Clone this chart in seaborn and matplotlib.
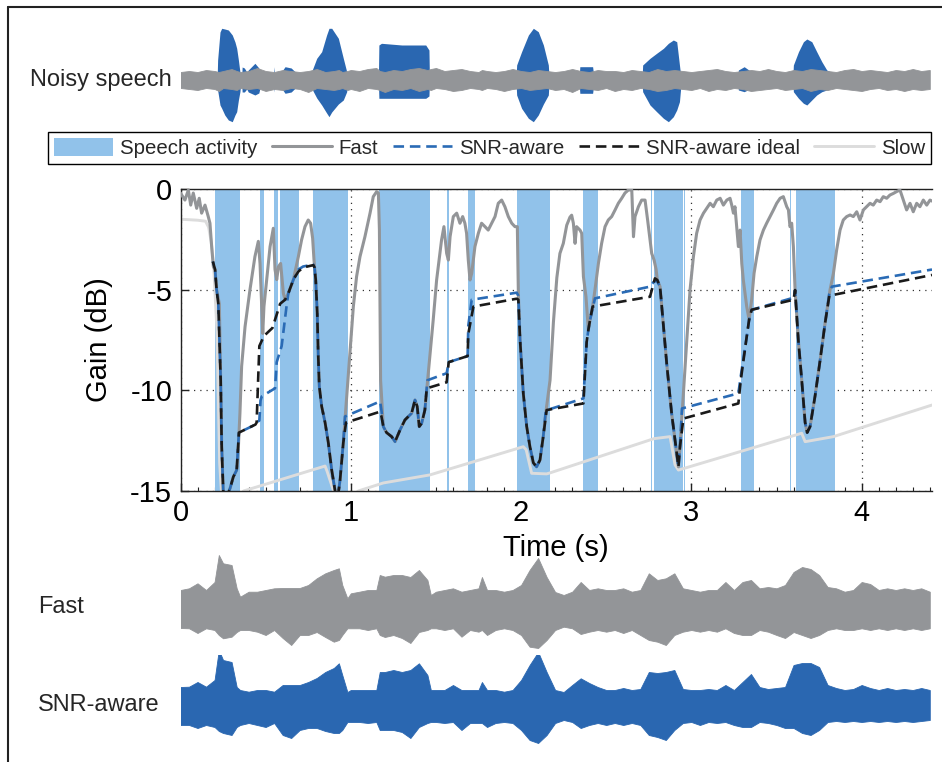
import numpy as np
import matplotlib
matplotlib.use("Agg")
import matplotlib.pyplot as plt
import seaborn as sns
from matplotlib.patches import Patch
from matplotlib.lines import Line2D
from matplotlib.ticker import MultipleLocator

# ---------------- data ----------------
speech_start = [0.203, 0.223, 0.467, 0.551, 0.584, 0.78, 1.167, 1.563, 1.686, 1.978,
                2.362, 2.763, 2.78, 2.957, 3.291, 3.579, 3.612]
speech_end = [0.219, 0.349, 0.49, 0.574, 0.698, 0.985, 1.465, 1.575, 1.729, 2.17,
              2.45, 2.77, 2.949, 2.962, 3.368, 3.587, 3.843]

fast_t = [0.0, 0.026, 0.046, 0.06, 0.075, 0.095, 0.11, 0.124, 0.144, 0.163, 0.173, 0.183, 0.193,
          0.203, 0.212, 0.228, 0.236, 0.242, 0.251, 0.262, 0.275, 0.291, 0.31, 0.33, 0.34, 0.349,
          0.359, 0.379, 0.408, 0.437, 0.457, 0.467, 0.477, 0.483, 0.49, 0.506, 0.526, 0.545, 0.555,
          0.565, 0.575, 0.588, 0.604, 0.614, 0.633, 0.663, 0.692, 0.711, 0.731, 0.75, 0.764, 0.776,
          0.784, 0.794, 0.803, 0.809, 0.815, 0.829, 0.849, 0.868, 0.888, 0.907, 0.917, 0.927, 0.937,
          0.956, 0.976, 0.995, 1.015, 1.034, 1.054, 1.083, 1.113, 1.132, 1.152, 1.162, 1.168, 1.175,
          1.191, 1.21, 1.24, 1.26, 1.289, 1.318, 1.338, 1.357, 1.377, 1.39, 1.402, 1.416, 1.435,
          1.455, 1.484, 1.504, 1.533, 1.547, 1.563, 1.573, 1.583, 1.602, 1.622, 1.641, 1.657, 1.67,
          1.68, 1.69, 1.7, 1.71, 1.729, 1.749, 1.768, 1.788, 1.807, 1.827, 1.847, 1.866, 1.886,
          1.905, 1.925, 1.945, 1.964, 1.978, 1.984, 1.994, 2.013, 2.033, 2.052, 2.072, 2.091, 2.111,
          2.13, 2.15, 2.17, 2.19, 2.21, 2.228, 2.248, 2.268, 2.287, 2.297, 2.307, 2.317, 2.326,
          2.346, 2.356, 2.366, 2.381, 2.395, 2.405, 2.42, 2.434, 2.454, 2.473, 2.493, 2.512, 2.532,
          2.552, 2.571, 2.591, 2.61, 2.63, 2.65, 2.66, 2.669, 2.689, 2.708, 2.728, 2.743, 2.757,
          2.767, 2.781, 2.793, 2.8, 2.816, 2.855, 2.884, 2.914, 2.924, 2.933, 2.953, 2.973, 2.992,
          3.012, 3.031, 3.051, 3.071, 3.09, 3.11, 3.129, 3.149, 3.169, 3.188, 3.208, 3.227, 3.237,
          3.247, 3.256, 3.266, 3.276, 3.286, 3.296, 3.305, 3.325, 3.339, 3.354, 3.368, 3.384, 3.403,
          3.423, 3.442, 3.462, 3.482, 3.501, 3.521, 3.54, 3.56, 3.57, 3.579, 3.589, 3.599, 3.609,
          3.628, 3.648, 3.668, 3.68, 3.697, 3.726, 3.756, 3.785, 3.814, 3.834, 3.853, 3.873, 3.892,
          3.912, 3.932, 3.951, 3.971, 3.99, 4.01, 4.029, 4.049, 4.068, 4.088, 4.108, 4.127, 4.147,
          4.166, 4.186, 4.205, 4.225, 4.245, 4.264, 4.284, 4.303, 4.323, 4.342, 4.362, 4.382, 4.401,
          4.413]
fast_g = [-0.2, -0.55, -0.05, -0.8, -0.2, -0.96, -0.46, -1.2, -0.8, -1.37, -1.7, -2.86, -3.86,
          -4.0, -5.0, -5.7, -9.5, -12.8, -15.0, -15.6, -15.2, -14.87, -14.3, -13.96, -12.8, -11.14,
          -8.8, -6.84, -5.0, -3.36, -2.6, -3.7, -5.84, -7.17, -5.84, -4.5, -2.86, -1.95, -4.0,
          -4.5, -3.86, -3.7, -5.18, -5.5, -5.18, -4.5, -3.36, -2.53, -1.87, -1.54, -1.7, -2.45,
          -3.53, -4.5, -6.18, -8.33, -9.8, -10.8, -11.6, -12.6, -13.96, -14.95, -15.4, -15.1, -14.45,
          -12.6, -10.3, -8.16, -5.84, -4.35, -3.36, -2.37, -1.2, -0.38, -0.13, -0.2, -2.0, -9.5,
          -11.8, -12.1, -12.3, -12.55, -11.97, -11.47, -11.3, -11.14, -10.48, -10.8, -11.8, -11.64, -10.98,
          -9.16, -6.5, -4.52, -2.53, -1.87, -3.2, -3.53, -2.37, -1.37, -1.2, -1.7, -1.37, -1.7,
          -2.2, -3.53, -4.52, -4.19, -2.86, -2.2, -1.7, -1.87, -2.04, -1.7, -1.37, -0.71, -0.55,
          -0.88, -1.37, -1.7, -1.87, -1.87, -5.2, -7.5, -10.15, -11.8, -12.8, -13.6, -13.8, -13.46,
          -12.3, -10.8, -9.5, -6.6, -4.4, -3.2, -2.7, -1.8, -1.4, -1.3, -1.7, -2.7, -1.87,
          -2.04, -2.2, -4.35, -5.35, -7.0, -6.5, -5.84, -5.0, -3.7, -2.7, -1.87, -1.54, -1.37,
          -1.04, -0.71, -0.46, -0.2, -0.05, -0.05, -2.37, -1.37, -0.88, -0.55, -0.55, -1.54, -2.53,
          -3.2, -3.53, -4.0, -4.52, -4.85, -8.66, -11.14, -13.13, -13.8, -12.8, -10.15, -7.5, -5.02,
          -3.36, -2.2, -1.54, -1.2, -0.96, -0.71, -0.88, -0.55, -0.46, -0.8, -0.55, -0.46, -0.8,
          -1.2, -0.88, -1.87, -2.86, -2.04, -3.7, -4.52, -5.84, -6.5, -5.5, -4.19, -3.36, -2.53,
          -2.04, -1.7, -1.37, -1.04, -0.71, -0.46, -0.38, -0.88, -1.04, -1.87, -1.7, -2.86, -5.02,
          -7.5, -9.49, -11.6, -12.1, -11.8, -10.3, -8.5, -6.67, -5.02, -4.19, -3.03, -2.04, -1.54,
          -1.37, -1.29, -1.37, -1.13, -1.54, -1.04, -0.88, -0.71, -0.8, -0.55, -0.63, -0.38, -0.46,
          -0.3, -0.22, -0.13, -0.05, -0.55, -1.04, -0.71, -1.13, -0.71, -0.88, -0.55, -0.8, -0.55,
          -0.6]

slow_t = [0.0, 0.1, 0.147, 0.165, 0.18, 0.194, 0.214, 0.23, 0.24, 0.26, 0.35, 0.37, 0.849,
          0.86, 0.899, 0.93, 1.03, 1.044, 1.191, 1.465, 2.013, 2.03, 2.062, 2.15, 2.17, 2.78,
          2.875, 2.904, 2.924, 3.648, 3.668, 3.834, 4.413]
slow_g = [-1.5, -1.55, -1.6, -1.9, -2.6, -3.7, -7.0, -13.6, -15.0, -15.5, -15.3, -15.0, -13.76,
          -14.0, -15.0, -15.3, -15.2, -15.0, -14.6, -14.2, -12.8, -12.95, -14.12, -14.15, -14.1, -12.4,
          -12.3, -13.7, -13.96, -12.13, -12.55, -12.3, -10.73]

ideal_t = [0.19, 0.203, 0.212, 0.222, 0.236, 0.242, 0.251, 0.262, 0.275, 0.291, 0.31, 0.33, 0.343,
           0.44, 0.447, 0.463, 0.49, 0.54, 0.585, 0.614, 0.633, 0.663, 0.692, 0.72, 0.78, 0.787,
           0.794, 0.803, 0.809, 0.815, 0.829, 0.849, 0.868, 0.888, 0.907, 0.917, 0.927, 0.937, 0.956,
           0.972, 1.172, 1.18, 1.191, 1.21, 1.24, 1.26, 1.289, 1.318, 1.338, 1.357, 1.377, 1.39,
           1.402, 1.416, 1.435, 1.446, 1.563, 1.575, 1.686, 1.69, 1.72, 1.974, 1.984, 1.994, 2.013,
           2.033, 2.052, 2.072, 2.091, 2.111, 2.13, 2.15, 2.366, 2.385, 2.395, 2.405, 2.42, 2.757,
           2.786, 2.8, 2.816, 2.855, 2.884, 2.914, 2.924, 2.933, 2.953, 3.276, 3.29, 3.325, 3.339,
           3.354, 3.6, 3.609, 3.628, 3.648, 3.668, 3.68, 3.697, 3.726, 3.756, 3.785, 3.81, 4.413]
ideal_g = [-3.6, -4.0, -5.0, -5.7, -9.5, -12.8, -15.0, -15.6, -15.2, -14.87, -14.3, -13.96, -12.1,
           -11.7, -11.6, -7.8, -7.3, -6.9, -5.7, -5.5, -5.18, -4.5, -4.1, -3.9, -3.78, -3.9,
           -4.5, -6.18, -8.33, -9.8, -10.8, -11.6, -12.6, -13.96, -14.95, -15.4, -15.1, -14.45, -12.6,
           -11.6, -11.06, -11.3, -11.8, -12.1, -12.3, -12.55, -11.97, -11.47, -11.3, -11.14, -10.48, -10.8,
           -11.8, -11.64, -10.98, -9.9, -9.6, -8.6, -8.3, -7.2, -5.84, -5.45, -5.5, -7.5, -10.15,
           -11.8, -12.8, -13.6, -13.8, -13.46, -12.3, -10.98, -10.65, -7.6, -7.0, -6.5, -5.84, -5.35,
           -4.44, -4.52, -4.85, -8.66, -11.14, -13.13, -13.8, -12.8, -11.4, -10.65, -9.5, -7.33, -6.5,
           -6.0, -5.5, -5.02, -7.5, -9.49, -11.6, -12.1, -11.8, -10.3, -8.5, -6.67, -5.3, -4.27]

snr_t = [0.19, 0.203, 0.212, 0.222, 0.236, 0.242, 0.251, 0.262, 0.275, 0.291, 0.31, 0.33, 0.343,
         0.44, 0.447, 0.463, 0.47, 0.477, 0.555, 0.565, 0.594, 0.623, 0.633, 0.663, 0.692, 0.72,
         0.78, 0.787, 0.794, 0.803, 0.809, 0.815, 0.829, 0.849, 0.868, 0.888, 0.907, 0.917, 0.927,
         0.937, 0.956, 0.966, 1.172, 1.18, 1.191, 1.21, 1.24, 1.26, 1.289, 1.318, 1.338, 1.357,
         1.377, 1.39, 1.402, 1.416, 1.435, 1.45, 1.563, 1.575, 1.686, 1.69, 1.71, 1.974, 1.984,
         1.994, 2.013, 2.033, 2.052, 2.072, 2.091, 2.111, 2.13, 2.145, 2.366, 2.385, 2.395, 2.405,
         2.434, 2.757, 2.786, 2.8, 2.816, 2.855, 2.884, 2.914, 2.924, 2.933, 2.945, 3.276, 3.29,
         3.325, 3.339, 3.354, 3.6, 3.609, 3.628, 3.648, 3.668, 3.68, 3.697, 3.726, 3.756, 3.785,
         3.81, 3.825, 4.413]
snr_g = [-3.6, -4.0, -5.0, -5.7, -9.5, -12.8, -15.0, -15.6, -15.2, -14.87, -14.3, -13.96, -12.1,
         -11.7, -11.6, -11.5, -10.5, -10.3, -9.9, -8.6, -7.8, -5.8, -5.2, -4.5, -4.0, -3.85,
         -3.75, -3.9, -4.5, -6.18, -8.33, -9.8, -10.8, -11.6, -12.6, -13.96, -14.95, -15.4, -15.1,
         -14.45, -12.6, -11.3, -10.55, -11.0, -11.8, -12.1, -12.3, -12.55, -11.97, -11.47, -11.3, -11.14,
         -10.48, -10.8, -11.8, -11.64, -10.98, -9.5, -9.15, -8.6, -8.3, -6.8, -5.5, -5.15, -5.3,
         -7.5, -10.15, -11.8, -12.8, -13.6, -13.8, -13.46, -12.3, -11.0, -10.4, -7.6, -7.0, -6.5,
         -5.43, -4.85, -4.55, -4.6, -4.85, -8.66, -11.14, -13.13, -13.8, -12.8, -10.9, -10.15, -9.3,
         -7.33, -6.5, -6.0, -5.4, -5.02, -7.5, -9.49, -11.6, -12.1, -11.8, -10.3, -8.5, -6.67,
         -5.2, -4.85, -4.0]

# waveform envelopes (pixel-like amplitude units)
wave_t = [0, 0.05, 0.1, 0.15, 0.2, 0.225, 0.25, 0.3, 0.33, 0.35,
          0.4, 0.45, 0.5, 0.55, 0.6, 0.65, 0.7, 0.75, 0.8, 0.85,
          0.9, 0.93, 0.95, 0.98, 1.0, 1.05, 1.1, 1.15, 1.17, 1.2,
          1.25, 1.3, 1.35, 1.4, 1.45, 1.47, 1.5, 1.55, 1.6, 1.65,
          1.7, 1.75, 1.77, 1.8, 1.85, 1.9, 1.95, 2.0, 2.05, 2.1,
          2.15, 2.2, 2.25, 2.3, 2.35, 2.4, 2.45, 2.5, 2.55, 2.6,
          2.65, 2.7, 2.75, 2.8, 2.85, 2.9, 2.95, 3.0, 3.05, 3.1,
          3.15, 3.2, 3.25, 3.3, 3.35, 3.4, 3.45, 3.5, 3.55, 3.6,
          3.65, 3.7, 3.75, 3.8, 3.85, 3.9, 3.95, 4.0, 4.05, 4.1,
          4.15, 4.2, 4.25, 4.3, 4.35, 4.4]
fast_hi = [20, 21.7, 26.7, 20, 28, 55, 46.7, 45, 21.7, 13.3,
           18.3, 18.3, 20, 21.7, 22, 22, 22, 25, 31.7, 36.7,
           40, 41.7, 25, 11.7, 16.7, 18.3, 20, 20, 35, 33.3,
           35, 35, 33, 40, 30, 15, 18.3, 20, 21.7, 18.3,
           20, 21.7, 33, 20, 20, 18.3, 20, 25, 40, 52,
           33, 18, 15, 18.3, 28, 20, 21.7, 20, 20, 21.7,
           18.3, 20, 36.7, 30, 31.7, 36.7, 21.7, 20, 18.3, 20,
           20, 28, 20, 28, 30, 21.7, 23, 21.7, 25, 38,
           43, 41, 35, 23, 21.7, 18.3, 20, 28, 26, 20,
           21.7, 20, 21.7, 20, 21.7, 18.3]
fast_lo = [-18, -18.3, -23, -18.3, -20, -25, -28.3, -26.7, -22, -20,
           -20, -21.7, -25, -20, -28, -35, -25, -25, -22, -27,
           -31.7, -30, -25, -18.3, -18.3, -18.3, -20, -18.3, -25, -27,
           -25, -28, -33, -22, -20, -18.3, -18.3, -20, -18.3, -26.7,
           -20, -21.7, -20, -25, -20, -18.3, -20, -25, -36.7, -38,
           -30, -20, -16.7, -18.3, -24, -21.7, -20, -21.7, -20, -23,
           -20, -25, -30, -31.7, -35, -25, -21.7, -20, -21.7, -20,
           -21.7, -18.3, -23, -25, -25, -20, -21.7, -25, -28, -22,
           -25, -28, -25, -20, -18.3, -20, -20, -18.3, -20, -18.3,
           -20, -18.3, -20, -18.3, -20, -18.3]
snr_hi = [18, 18.3, 23, 18.3, 25, 55, 45, 43, 18, 15,
          13.3, 15, 15, 13.3, 20, 20, 20, 23, 27, 33,
          37, 41.7, 30, 13, 15, 15, 15, 15, 33, 33,
          35, 33, 35, 41.7, 30, 15, 15, 15, 20, 15,
          15, 15, 23, 15, 15, 13.3, 15, 25, 40, 53,
          33, 15, 13, 20, 26.7, 22, 18, 15, 15, 17,
          15, 16, 33, 32, 33, 35, 16, 15, 15, 16,
          15, 20, 15, 23, 31, 18, 16, 17, 18, 40,
          42, 42, 38, 20, 17, 15, 16, 20, 17, 15,
          17, 15, 16, 15, 17, 15]
snr_lo = [-20, -20, -23, -20, -22, -26, -28, -30, -22, -20,
          -18, -20, -22, -18, -30, -33, -25, -23, -23, -26,
          -28, -28, -25, -17, -17, -17, -18, -17, -25, -25,
          -25, -27, -33, -22, -18, -17, -17, -18, -17, -25,
          -18, -18, -18, -22, -18, -17, -18, -25, -35, -38,
          -30, -18, -15, -17, -23, -20, -18, -20, -18, -20,
          -18, -20, -30, -32, -35, -25, -18, -17, -20, -17,
          -18, -17, -20, -22, -22, -17, -18, -20, -23, -23,
          -28, -30, -25, -17, -16, -17, -16, -17, -16, -17,
          -16, -17, -16, -17, -16, -15]
noise_hi = [8, 9, 8, 10, 9, 8, 9, 11, 9, 8,
            9, 12, 9, 8, 10, 9, 8, 9, 11, 8,
            9, 10, 8, 9, 10, 9, 11, 12, 9, 8,
            10, 9, 11, 12, 10, 11, 12, 9, 10, 11,
            9, 8, 10, 9, 8, 9, 11, 9, 8, 10,
            9, 8, 9, 11, 9, 8, 10, 9, 9, 8,
            10, 9, 8, 11, 9, 10, 9, 8, 9, 10,
            11, 9, 8, 9, 10, 9, 11, 9, 8, 10,
            9, 11, 10, 9, 8, 10, 11, 9, 10, 9,
            8, 10, 9, 11, 9, 10]
noise_lo = [-8, -9, -10, -8, -9, -11, -8, -9, -10, -8,
            -9, -8, -11, -9, -10, -8, -9, -12, -8, -9,
            -10, -9, -8, -10, -9, -11, -8, -9, -10, -12,
            -9, -10, -8, -11, -9, -10, -8, -9, -11, -10,
            -8, -9, -10, -8, -9, -11, -9, -8, -10, -9,
            -8, -10, -9, -12, -8, -9, -10, -8, -11, -9,
            -10, -8, -9, -11, -10, -8, -9, -10, -8, -11,
            -9, -10, -8, -9, -11, -10, -9, -8, -10, -9,
            -8, -11, -9, -10, -8, -9, -10, -11, -9, -8,
            -10, -9, -11, -9, -10, -9]

speech_t = [0.0, 0.215, 0.218, 0.232, 0.242, 0.26, 0.281, 0.304, 0.32, 0.33, 0.34, 0.349, 0.355,
            0.359, 0.362, 0.375, 0.389, 0.398, 0.437, 0.46, 0.477,
            0.545, 0.55, 0.555,
            0.584, 0.614, 0.65, 0.692, 0.7,
            0.77, 0.8, 0.829, 0.858, 0.872, 0.888, 0.927, 0.956, 0.976, 0.98,
            1.162, 1.165, 1.18, 1.3, 1.44, 1.459, 1.462,
            1.97, 1.974, 2.003, 2.043, 2.072, 2.101, 2.131, 2.16, 2.165,
            2.34, 2.345, 2.42, 2.43,
            2.71, 2.714, 2.757, 2.796, 2.836, 2.865, 2.894, 2.914, 2.93, 2.937, 2.94,
            3.27, 3.276, 3.31, 3.354, 3.36,
            3.595, 3.599, 3.629, 3.658, 3.678, 3.707, 3.736, 3.766, 3.795, 3.834, 3.84, 4.41]
speech_hi = [0, 0, 20, 48, 51.7, 51, 50, 45, 38, 31.7, 20, 8, 0,
             0, 13, 12, 8, 10, 16.7, 12, 0,
             0, 13.3, 0,
             6, 13.3, 12, 5, 0,
             8.3, 21.7, 28.3, 45, 51.7, 51.7, 41.7, 21.7, 8.3, 0,
             0, 35, 36.7, 35, 35, 30, 0,
             0, 15, 28.3, 45, 51.7, 48.3, 35, 15, 0,
             0, 13.3, 13.3, 0,
             0, 15, 21.7, 26.7, 31.7, 36.7, 40, 38.3, 15, 5, 0,
             0, 10, 13.3, 8, 0,
             0, 15, 28.3, 38.3, 41, 38.3, 28.3, 18.3, 10, 6.7, 0, 0]
speech_lo = [0, 0, -10, -25, -28.3, -35, -40, -41.7, -35, -31.7, -20, -11.7, 0,
             0, -12, -12, -9, -12, -15, -13, 0,
             0, -12, 0,
             -6, -13.3, -12, -5, 0,
             -8.3, -18, -25, -33, -36.7, -32, -24, -20, -11.7, 0,
             0, -18.3, -18.3, -18.3, -18.3, -16, 0,
             0, -15, -28.3, -38.3, -41.7, -35, -24, -15, 0,
             0, -13.3, -13.3, 0,
             0, -11.7, -25, -31.7, -38.3, -41.7, -36.7, -30, -21.7, -8.3, 0,
             0, -10, -11.7, -8, 0,
             0, -11.7, -18.3, -23.3, -25, -20, -15, -11.7, -10, -7, 0, 0]

labels = ["Speech activity", "Fast", "SNR-aware", "SNR-aware ideal", "Slow"]
xticks = [0, 1, 2, 3, 4]
xticklabels = ["0", "1", "2", "3", "4"]
yticks = [0, -5, -10, -15]
yticklabels = ["0", "-5", "-10", "-15"]

# ---------------- style ----------------
C_SPAN = "#91C2EA"
C_FAST = "#939598"
C_SNR = "#2A6BB5"
C_IDEAL = "#1a1a1a"
C_SLOW = "#DCDCDC"
C_WBLUE = "#2A67B1"

sns.set_theme(style="white")
plt.rcParams['font.family'] = ['Liberation Sans', 'DejaVu Sans']

W, H = 942, 762
fig = plt.figure(figsize=(W / 100, H / 100), dpi=100)


def box(x0, y0, x1, y1):
    return [x0 / W, 1 - y1 / H, (x1 - x0) / W, (y1 - y0) / H]


XMAX = 4.413

# ---------------- main gain axes ----------------
ax = fig.add_axes(box(180.5, 189, 932, 491))
ax.set_xlim(0, XMAX)
ax.set_ylim(-15, 0)
ax.set_axisbelow(True)
ax.grid(True, which='major', linestyle=(0, (1, 4)), color='#333333', linewidth=0.9)
for a, b in zip(speech_start, speech_end):
    ax.axvspan(a, b, color=C_SPAN, lw=0, zorder=1)

dash = (0, (4, 2.2))
sns.lineplot(x=slow_t, y=slow_g, ax=ax, color=C_SLOW, linewidth=2.1, estimator=None,
             sort=False, zorder=2, legend=False)
sns.lineplot(x=fast_t, y=fast_g, ax=ax, color=C_FAST, linewidth=2.2, estimator=None,
             sort=False, zorder=3, legend=False)
sns.lineplot(x=snr_t, y=snr_g, ax=ax, color=C_SNR, linewidth=1.9, estimator=None,
             sort=False, zorder=4, legend=False, linestyle=(2.5, (4, 2.2)))
sns.lineplot(x=ideal_t, y=ideal_g, ax=ax, color=C_IDEAL, linewidth=1.9, estimator=None,
             sort=False, zorder=5, legend=False, linestyle=dash)

ax.set_xticks(xticks)
ax.set_xticklabels(xticklabels)
ax.set_yticks(yticks)
ax.set_yticklabels(yticklabels)
ax.xaxis.set_minor_locator(MultipleLocator(0.1))
ax.tick_params(which='major', direction='in', length=6, width=1, labelsize=21, pad=6,
               color='#222222', labelcolor='black', bottom=True, left=True)
ax.tick_params(which='minor', direction='in', length=3, width=0.8, bottom=True, left=False,
               color='#222222')
for s in ['left', 'bottom', 'top']:
    ax.spines[s].set_visible(True)
    ax.spines[s].set_color('#222222')
    ax.spines[s].set_linewidth(1.0)
ax.spines['right'].set_visible(False)
ax.set_xlabel("Time (s)", fontsize=21, color='black')
ax.set_ylabel("Gain (dB)", fontsize=21, color='black')
ax.xaxis.set_label_coords(0.5, (491 - 534) / 302)
ax.yaxis.set_label_coords((113 - 180.5) / 751.5, 0.5)

# ---------------- waveforms ----------------
ax_n = fig.add_axes(box(180.5, 20, 932, 140))
ax_n.set_xlim(0, XMAX)
ax_n.set_ylim(-60, 60)
ax_n.fill_between(speech_t, speech_lo, speech_hi, color=C_WBLUE, lw=0)
ax_n.fill_between(wave_t, noise_lo, noise_hi, color=C_FAST, lw=0.6)
ax_n.axis('off')

ax_f = fig.add_axes(box(180.5, 550, 932, 670))
ax_f.set_xlim(0, XMAX)
ax_f.set_ylim(-60, 60)
ax_f.fill_between(wave_t, fast_lo, fast_hi, color=C_FAST, lw=0.6)
ax_f.axis('off')

ax_s = fig.add_axes(box(180.5, 655, 932, 755))
ax_s.set_xlim(0, XMAX)
ax_s.set_ylim(-50, 50)
ax_s.fill_between(wave_t, snr_lo, snr_hi, color=C_WBLUE, lw=0.6)
ax_s.axis('off')

fig.text(30 / W, 1 - 80 / H, "Noisy speech", fontsize=17, va='center', ha='left')
fig.text(38 / W, 1 - 607 / H, "Fast", fontsize=17, va='center', ha='left')
fig.text(38 / W, 1 - 705 / H, "SNR-aware", fontsize=17, va='center', ha='left')

# ---------------- legend ----------------
handles = [Patch(facecolor=C_SPAN, edgecolor='none'),
           Line2D([], [], color=C_FAST, lw=2.2),
           Line2D([], [], color=C_SNR, lw=1.9, linestyle=dash),
           Line2D([], [], color=C_IDEAL, lw=1.9, linestyle=dash),
           Line2D([], [], color=C_SLOW, lw=2.1)]
leg = fig.legend(handles, labels, loc='center', bbox_to_anchor=((47 + 932) / 2 / W, 1 - 148 / H),
                 ncol=5, fontsize=14.7, frameon=True, fancybox=False, edgecolor='black',
                 framealpha=1, handlelength=2.9, handletextpad=0.35, columnspacing=0.72,
                 borderpad=0.3, handleheight=1.0)
leg.get_frame().set_linewidth(1.0)

# ---------------- outer frame ----------------
fig.add_artist(Line2D([7.5 / W, 7.5 / W], [0, 1 - 7 / H], transform=fig.transFigure,
                      color='#222222', lw=1.5))
fig.add_artist(Line2D([7.5 / W, 1], [1 - 7 / H, 1 - 7 / H], transform=fig.transFigure,
                      color='#222222', lw=1.5))

fig.savefig("out.png", dpi=100)
